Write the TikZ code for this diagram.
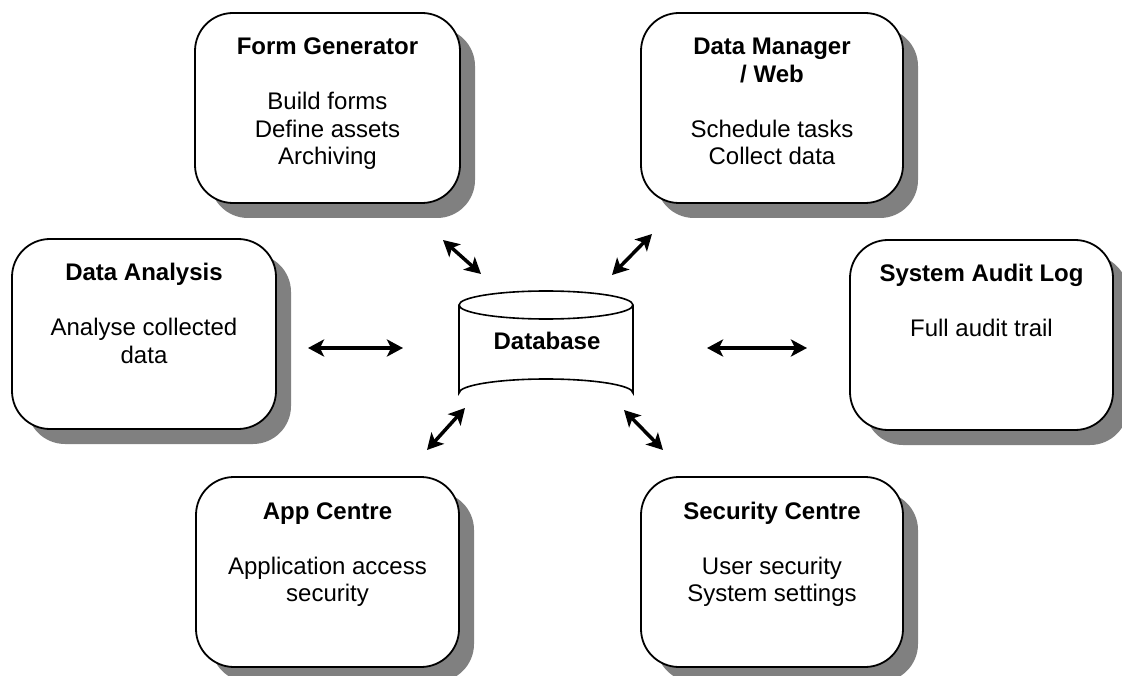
\documentclass[tikz,border=0pt]{standalone}
\usepackage{fontspec}
\setmainfont{Liberation Sans}
\usetikzlibrary{arrows.meta,shadows,shapes.geometric}
\begin{document}
\begin{tikzpicture}[x=1pt,y=-1pt,
  box/.style={draw=black, line width=1.8pt, fill=white, rounded corners=38pt,
    inner sep=0pt, outer sep=0pt, anchor=north west,
    drop shadow={shadow xshift=15pt, shadow yshift=-15pt, fill=black!50, opacity=1}},
  dbl/.style={line width=3.5pt, {Stealth[length=16pt,width=17pt,inset=4pt]}-{Stealth[length=16pt,width=17pt,inset=4pt]}},
  db/.style={draw=black, line width=1.6pt, fill=white}
]
\useasboundingbox (0,0) rectangle (1122,676);
\newcommand{\boxtext}[3]{\parbox[c][190pt][t]{#1pt}{\centering\fontsize{24}{27.5}\selectfont\rule{0pt}{42pt}#2\\[27.5pt]#3\par}}

\node[box] (fg) at (195,13) {\boxtext{265}{\textbf{Form Generator}}{Build forms\\Define assets\\Archiving}};
\node[box] (dm) at (641,13) {\boxtext{262}{\textbf{Data Manager}\\\textbf{/ Web}}{Schedule tasks\\Collect data}};
\node[box] (da) at (12,239) {\boxtext{264}{\textbf{Data Analysis}}{Analyse collected\\data}};
\node[box] (sa) at (850,240) {\boxtext{263}{\textbf{System Audit Log}}{Full audit trail}};
\node[box] (ac) at (196,477) {\boxtext{263}{\textbf{App Centre}}{Application access\\security}};
\node[box] (sc) at (641,477) {\boxtext{262}{\textbf{Security Centre}}{User security\\System settings}};

% database cylinder
\draw[db] (459,305) -- (459,393) arc[start angle=180,end angle=360,x radius=87,y radius=14] -- (633,305);
\draw[db] (546,305) ellipse[x radius=87, y radius=14];
\node[font=\fontsize{24}{27.5}\selectfont\bfseries, anchor=base] (dbase) at (547,349) {Database};

% arrow end points
\coordinate (a1) at (308,348); \coordinate (a2) at (403,348);
\coordinate (b1) at (707,348); \coordinate (b2) at (807,348);
\coordinate (c1) at (443,240); \coordinate (c2) at (481,274);
\coordinate (d1) at (652,234); \coordinate (d2) at (612,275);
\coordinate (e1) at (465,408); \coordinate (e2) at (427,450);
\coordinate (f1) at (624,410); \coordinate (f2) at (663,450);
\draw[dbl] (a1) -- (a2);
\draw[dbl] (b1) -- (b2);
\draw[dbl] (c1) -- (c2);
\draw[dbl] (d1) -- (d2);
\draw[dbl] (e1) -- (e2);
\draw[dbl] (f1) -- (f2);
\end{tikzpicture}
\end{document}
